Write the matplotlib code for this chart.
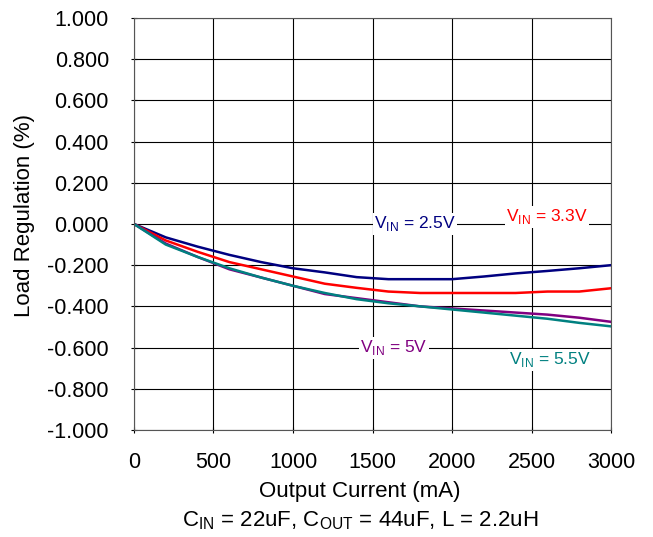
import matplotlib
matplotlib.use('Agg')
import matplotlib.pyplot as plt

plt.rcParams['font.family'] = 'Liberation Sans'
plt.rcParams['mathtext.fontset'] = 'custom'
plt.rcParams['mathtext.rm'] = 'Liberation Sans'

# Output current (mA)
current = [0, 200, 400, 600, 800, 1000, 1200, 1400, 1600, 1800,
           2000, 2200, 2400, 2600, 2800, 3000]

# Load regulation (%) per input voltage
vin_2v5 = [0, -0.065, -0.11, -0.15, -0.185, -0.215, -0.235, -0.258, -0.268, -0.268,
           -0.268, -0.255, -0.24, -0.228, -0.215, -0.2]
vin_3v3 = [0, -0.08, -0.135, -0.185, -0.22, -0.255, -0.29, -0.31, -0.328, -0.335,
           -0.335, -0.335, -0.335, -0.328, -0.328, -0.312]
vin_5v = [0, -0.095, -0.16, -0.22, -0.26, -0.3, -0.34, -0.36, -0.38, -0.4,
          -0.41, -0.42, -0.43, -0.44, -0.455, -0.475]
vin_5v5 = [0, -0.1, -0.16, -0.215, -0.26, -0.3, -0.335, -0.365, -0.385, -0.4,
           -0.415, -0.43, -0.445, -0.46, -0.48, -0.497]

fig = plt.figure(figsize=(6.53, 5.37), dpi=100)
ax = fig.add_axes([0.2052, 0.1993, 0.7305, 0.7672])

ax.plot(current, vin_2v5, color='#000080', lw=1.8)
ax.plot(current, vin_3v3, color='#ff0000', lw=1.8)
ax.plot(current, vin_5v, color='#800080', lw=1.8)
ax.plot(current, vin_5v5, color='#008080', lw=1.8)

ax.set_xlim(0, 3000)
ax.set_ylim(-1, 1)
ax.set_xticks(range(0, 3001, 500))
ax.set_yticks([i / 5 for i in range(-5, 6)])
ax.set_yticklabels(['%.3f' % (i / 5) for i in range(-5, 6)])
ax.grid(True, color='black', lw=0.8)
ax.set_axisbelow(True)
for s in ax.spines.values():
    s.set_color('#555555')
ax.tick_params(axis='y', labelsize=15.5, direction='inout', length=4, pad=16)
ax.tick_params(axis='x', labelsize=15.5, direction='inout', length=4, pad=14)

fig.text(25 / 653, 1 - 215 / 537, 'Load Regulation (%)', fontsize=16,
         rotation=90, ha='center', va='center')
fig.text(360 / 653, 1 - 492 / 537, 'Output Current (mA)', fontsize=16,
         ha='center', va='center')
fig.text(360 / 653, 1 - 521 / 537,
         r'C$_{\mathrm{IN}}$ = 22uF, C$_{\mathrm{OUT}}$ = 44uF, L = 2.2uH',
         fontsize=16, ha='center', va='center')

box = dict(facecolor='white', edgecolor='none', pad=1)
ax.text(1767, 0.0, r'V$_{\mathrm{IN}}$ = 2.5V', color='#000080', fontsize=12.5,
        ha='center', va='center', bbox=box)
ax.text(2597, 0.034, r'V$_{\mathrm{IN}}$ = 3.3V', color='#ff0000', fontsize=12.5,
        ha='center', va='center', bbox=box)
ax.text(1635, -0.602, r'V$_{\mathrm{IN}}$ = 5V', color='#800080', fontsize=12.5,
        ha='center', va='center', bbox=box)
ax.text(2616, -0.66, r'V$_{\mathrm{IN}}$ = 5.5V', color='#008080', fontsize=12.5,
        ha='center', va='center', bbox=box)

fig.savefig('out.png', dpi=100)
